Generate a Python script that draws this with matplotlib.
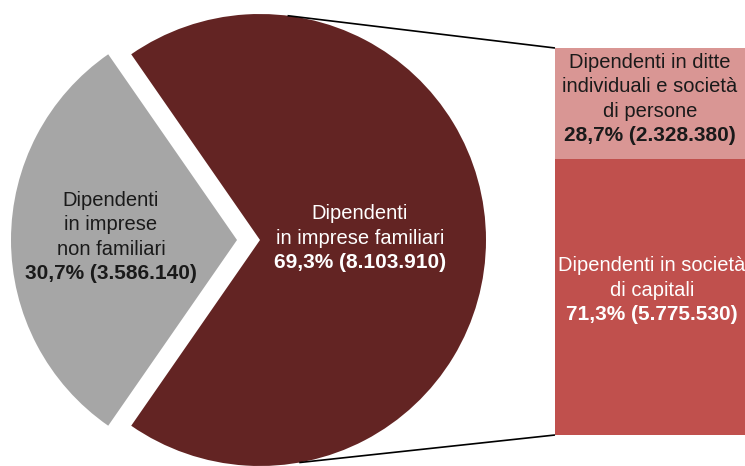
import numpy as np
import matplotlib
matplotlib.use("Agg")
from matplotlib import pyplot as plt

# data
pie_labels = ["Dipendenti\nin imprese\nnon familiari", "Dipendenti\nin imprese familiari"]
pie_shares = [30.7, 69.3]
pie_values = ["3.586.140", "8.103.910"]
bar_labels = ["Dipendenti in società\ndi capitali", "Dipendenti in ditte\nindividuali e società\ndi persone"]
bar_shares = [71.3, 28.7]
bar_values = ["5.775.530", "2.328.380"]

pie_colors = ["#A6A6A6", "#632423"]
bar_colors = ["#C0504D", "#D99694"]

plt.rcParams['font.family'] = ['Liberation Sans', 'DejaVu Sans']

fig = plt.figure(figsize=(7.45, 4.66), dpi=100)
ax = fig.add_axes([0, 0, 1, 1])

# pie (pixel-like units, y up)
cx, cy, r = 248.5, 226, 226
gap = 11.5  # explode distance, same units as the axes
half = 360 * pie_shares[0] / 100 / 2
ax.pie(pie_shares, colors=pie_colors, startangle=180 - half,
       center=(cx, cy), radius=r, explode=[gap, gap],
       wedgeprops=dict(linewidth=0), frame=True)
ax.set_xlim(0, 745)
ax.set_ylim(0, 466)
ax.set_aspect('equal')
ax.axis('off')

# stacked bar for the breakdown of the family companies
bar_x, bar_w = 650, 190
bar_bottom, bar_h = 31, 387
bottom = bar_bottom
for share, col in zip(bar_shares, bar_colors):
    h = bar_h * share / 100
    ax.bar(bar_x, h, width=bar_w, bottom=bottom, color=col, linewidth=0)
    bottom += h

# connector lines from the red wedge to the bar
rc = cx + gap  # red wedge centre after explode
for ang, yb in [(83, bar_bottom + bar_h), (-80, bar_bottom)]:
    px = rc + r * np.cos(np.radians(ang))
    py = cy + r * np.sin(np.radians(ang))
    ax.plot([px, bar_x - bar_w / 2], [py, yb], color='black', lw=1.2, solid_capstyle='butt')


def block(x, ymid, text, pct, val, color, step=24.5):
    lines = text.split("\n")
    n = len(lines) + 1
    top = ymid + step * (n - 1) / 2
    for i, ln in enumerate(lines):
        ax.text(x, top - i * step, ln, ha='center', va='center', fontsize=14.5, color=color)
    ax.text(x, top - (n - 1) * step, f"{pct:.1f}% ({val})".replace(".", ",", 1),
            ha='center', va='center', fontsize=15, fontweight='bold', color=color)


block(111, 229, pie_labels[0], pie_shares[0], pie_values[0], '#1a1a1a')
block(360, 228, pie_labels[1], pie_shares[1], pie_values[1], 'white')
block(652, 176, bar_labels[0], bar_shares[0], bar_values[0], 'white')
block(650, 367, bar_labels[1], bar_shares[1], bar_values[1], '#1a1a1a')

fig.savefig("out.png", dpi=100)
